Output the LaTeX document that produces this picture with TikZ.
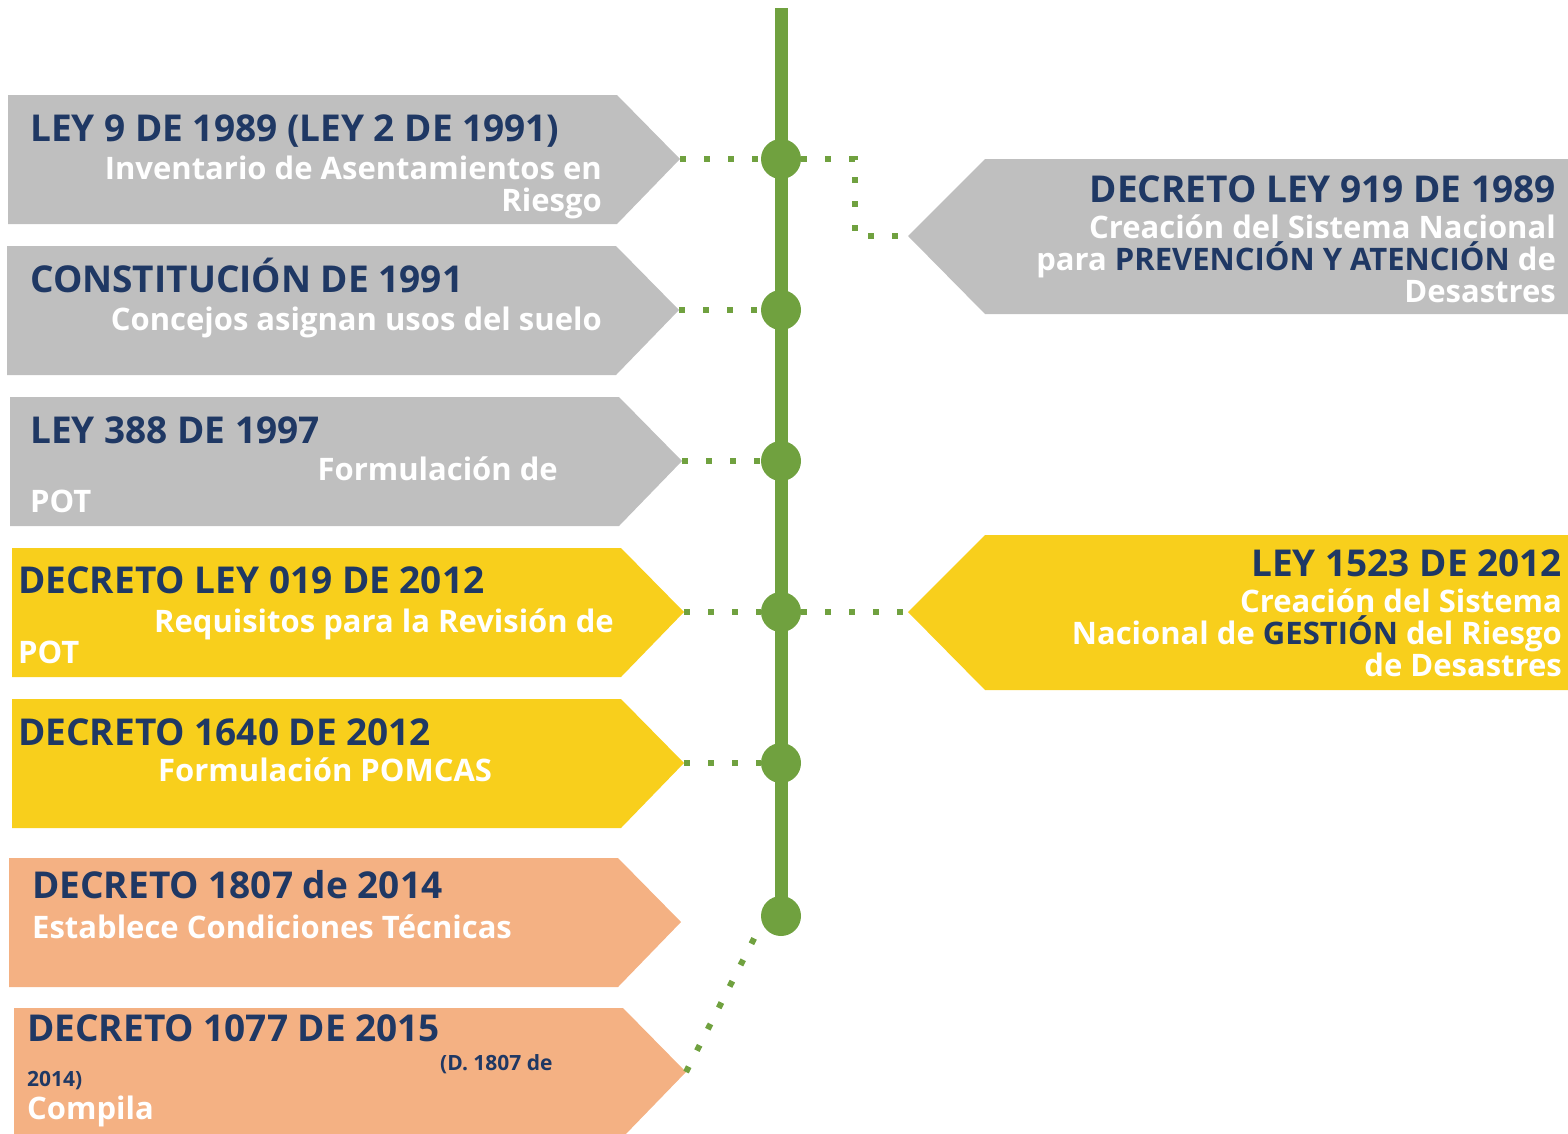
\documentclass[tikz,border=0pt]{standalone}
\usepackage{fontspec}
\setmainfont{Open Sans}
\usepackage{tikz}
\usetikzlibrary{positioning}
\definecolor{navy}{HTML}{1F3864}
\definecolor{greyb}{HTML}{BFBFBF}
\definecolor{yellowb}{HTML}{F8CF1C}
\definecolor{orangeb}{HTML}{F4B183}
\definecolor{lineg}{HTML}{70A13F}
\newcommand{\titlefont}{\fontsize{37}{40}\selectfont}
\newcommand{\subfont}{\fontsize{31}{32}\selectfont}
\newcommand{\notefont}{\fontsize{21}{24}\selectfont}
\newcommand{\nv}[1]{\textcolor{navy}{#1}}

\begin{document}
\begin{tikzpicture}[
                x = 1pt, y = -1pt, % pixel grid of the slide
                font = \bfseries,
                timeline/.style = {lineg, line width=13pt},
                dots/.style = {lineg, line width=6pt, dash pattern=on 6pt off 18pt}
                ]
                \tikzstyle{dot}=[
                    circle,
                    fill = lineg,
                    minimum size = 40pt,
                    inner sep = 0pt
                ]
                \tikzstyle{ttl}=[anchor=base west, inner sep=0pt, text=navy, font=\bfseries\titlefont]
                \tikzstyle{sub}=[anchor=base east, inner sep=0pt, text=white, font=\bfseries\subfont, align=right]
                \tikzstyle{subl}=[sub, anchor=base west, align=left]

                \useasboundingbox (0,0) rectangle (1568,1133);

                % left arrows
                \foreach \x/\y/\c/\n in {8/95/greyb/1, 7/246/greyb/2, 10/397/greyb/3,
                    12/548/yellowb/4, 12/699/yellowb/5, 9/858/orangeb/6, 14/1008/orangeb/7} {
                    \fill[\c] (\x,\y) -- (\x+609,\y) -- (\x+672,\y+64) -- (\x+609,\y+129)
                        -- (\x,\y+129) -- cycle;
                    \coordinate (tip\n) at (\x+672,\y+64);
                }
                % right arrows
                \foreach \y/\c/\n in {159/greyb/1, 535/yellowb/2} {
                    \fill[\c] (1568,\y) -- (985,\y) -- (908,\y+77) -- (985,\y+155)
                        -- (1568,\y+155) -- cycle;
                    \coordinate (rtip\n) at (908,\y+77);
                }

                % timeline
                \coordinate (top) at (781,8);
                \foreach \y [count=\i] in {159,310,461,612,763,916}
                    \coordinate (c\i) at (781,\y);
                \draw[timeline] (top) -- (c6);
                \foreach \i in {1,...,6}
                    \node[dot] (d\i) at (c\i) {};

                \coordinate (elbow) at (855,159);
                \draw[dots] (tip1) -- (d1);
                \draw[dots] (d1) -- (elbow) |- (rtip1);
                \draw[dots] (tip2) -- (d2);
                \draw[dots] (tip3) -- (d3);
                \draw[dots] (tip4) -- (d4);
                \draw[dots] (d4) -- (rtip2);
                \draw[dots] (tip5) -- (d5);
                \draw[dots] (tip7) -- (d6.200);

                % texts (multi-line nodes sit on their last line)
                \node[ttl] (t1) at (30,141) {LEY 9 DE 1989 (LEY 2 DE 1991)};
                \node[sub] (s1) at (602,211) {Inventario de Asentamientos en\\Riesgo};

                \node[ttl] (t2) at (30,292) {CONSTITUCIÓN DE 1991};
                \node[sub] (s2) at (602,330) {Concejos asignan usos del suelo};

                \node[ttl] (t3) at (30,443) {LEY 388 DE 1997};
                \node[sub] (s3) at (558,480) {Formulación de};
                \node[subl] (s3b) at (30,512) {POT};

                \node[ttl] (t4) at (18,593) {DECRETO LEY 019 DE 2012};
                \node[sub] (s4) at (614,632) {Requisitos para la Revisión de};
                \node[subl] (s4b) at (18,663) {POT};

                \node[ttl] (t5) at (18,745) {DECRETO 1640 DE 2012};
                \node[subl] (s5) at (158,781) {Formulación POMCAS};

                \node[ttl] (t6) at (32,898) {DECRETO 1807 de 2014};
                \node[subl] (s6) at (32,938) {Establece Condiciones Técnicas};

                \node[ttl] (t7) at (27,1041) {DECRETO 1077 DE 2015};
                \node[ttl, font=\bfseries\notefont] (n7) at (440,1070) {(D. 1807 de};
                \node[ttl, font=\bfseries\notefont] (n7b) at (27,1086) {2014)};
                \node[subl] (s7) at (27,1119) {Compila};

                \node[ttl, anchor=base east] (rt1) at (1556,202) {DECRETO LEY 919 DE 1989};
                \node[sub] (rs1) at (1556,302) {Creación del Sistema Nacional\\
                    para \nv{PREVENCIÓN Y ATENCIÓN} de\\Desastres};

                \node[ttl, anchor=base east] (rt2) at (1562,576) {LEY 1523 DE 2012};
                \node[sub] (rs2) at (1562,676) {Creación del Sistema\\
                    Nacional de \nv{GESTIÓN} del Riesgo\\de Desastres};
            \end{tikzpicture}
\end{document}
